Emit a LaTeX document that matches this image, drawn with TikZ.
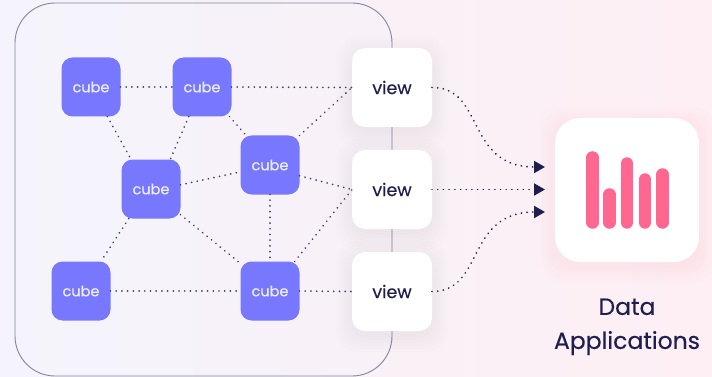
\documentclass[tikz,border=0pt]{standalone}
\usepackage{fontspec}
\setmainfont{Poppins}
\newfontfamily\medfont{Poppins}[FakeBold=0.35]
\usetikzlibrary{arrows.meta}
\definecolor{ink}{HTML}{1F1F4F}
\definecolor{dotc}{HTML}{3F3F66}
\definecolor{cubeblue}{HTML}{7878FF}
\definecolor{cubetext}{HTML}{ECECFF}
\definecolor{barpink}{HTML}{FF6690}
\definecolor{bgleft}{HTML}{F5F4FC}
\definecolor{bgright}{HTML}{FDEFF4}
\definecolor{framec}{HTML}{85859F}
\tikzset{
  cubebox/.style={draw=none,fill=cubeblue,rounded corners=11pt,minimum width=59pt,minimum height=59pt,inner sep=0pt,outer sep=0pt,text=cubetext,font=\medfont\fontsize{14.5}{16}\selectfont},
  viewbox/.style={draw=none,fill=white,rounded corners=13pt,minimum width=80pt,minimum height=79pt,inner sep=0pt,outer sep=0pt,text=ink,font=\medfont\fontsize{17.5}{19}\selectfont},
  appbox/.style={draw=none,fill=white,rounded corners=25pt,minimum width=144pt,minimum height=144pt,inner sep=0pt,outer sep=0pt},
  framebox/.style={draw=framec,line width=0.9pt,rounded corners=40pt,fill=bgleft,fill opacity=0.2,minimum width=377pt,minimum height=373pt,inner sep=0pt},
  dotline/.style={draw=dotc,line width=1.9pt,line cap=round,dash pattern=on 0.01pt off 5.7pt},
  flow/.style={draw=ink,line width=1.9pt,line cap=round,dash pattern=on 0.01pt off 5.7pt,-{Triangle[length=11pt,width=12pt,color=ink]}},
  barline/.style={draw=barpink,line width=12.5pt,line cap=round},
}
\newcommand{\softshadow}[6]{% cx cy w h color opacity
  \foreach \g in {16,13,10,7,4,1}{
    \fill[#5,opacity=#6,rounded corners=22pt] (#1-#3/2-\g,#2-#4/2-\g+5) rectangle (#1+#3/2+\g,#2+#4/2+\g+5);
  }
}
\begin{document}
\begin{tikzpicture}[x=1pt,y=-1pt]
\useasboundingbox (0,0) rectangle (712,377);
\shade[left color=bgleft,right color=bgright,middle color=bgleft!45!bgright] (0,0) rectangle (712,377);
\node[framebox] (frame) at (203.5,189.5) {};
\softshadow{392}{87.5}{80}{79}{ink}{0.006}
\softshadow{392}{189.5}{80}{79}{ink}{0.006}
\softshadow{392}{291.5}{80}{79}{ink}{0.006}
\softshadow{627}{190}{144}{144}{barpink}{0.012}
\node[cubebox] (c1) at (91,87) {cube};
\node[cubebox] (c2) at (202,87) {cube};
\node[cubebox] (c3) at (151,189) {cube};
\node[cubebox] (c4) at (270,165) {cube};
\node[cubebox] (c5) at (81,291) {cube};
\node[cubebox] (c6) at (270,291) {cube};
\node[viewbox] (v1) at (392,87.5) {view};
\node[viewbox] (v2) at (392,189.5) {view};
\node[viewbox] (v3) at (392,291.5) {view};
\node[appbox] (app) at (627,190) {};
\node[text=ink,font=\medfont\fontsize{23.5}{34}\selectfont,align=center,anchor=north] (label) at (627,295) {Data\\Applications};
\draw[dotline] (c1.east) -- (c2.west);
\draw[dotline] (c1.-61) -- (c3.124);
\draw[dotline] (c2.-114) -- (c3.57);
\draw[dotline] (c2.-47) -- (c4.129);
\draw[dotline] (c3.8) -- (c4.193);
\draw[dotline] (c3.-127) -- (c5.56);
\draw[dotline] (c3.-41) -- (c6.137);
\draw[dotline] (c4.south) -- (c6.north);
\draw[dotline] (c5.east) -- (c6.west);
\draw[dotline] (c2.east) -- (v1.west);
\draw[dotline] (c4.north east) -- (v1.west);
\draw[dotline] (c4.-20) -- (v2.west);
\draw[dotline] (c6.50) -- (v2.west);
\draw[dotline] (c6.east) -- (v3.west);
\coordinate (a1) at (545,167);
\coordinate (a2) at (545,189.5);
\coordinate (a3) at (545,212);
\draw[flow] (v1.east) .. controls (485,87) and (465,167) .. (a1);
\draw[flow] (v2.east) -- (a2);
\draw[flow] (v3.east) .. controls (485,291.5) and (465,212) .. (a3);
\coordinate (b1t) at (592.5,157.5); \coordinate (b1b) at (592.5,222.5);
\coordinate (b2t) at (609.5,194.5); \coordinate (b2b) at (609.5,222.5);
\coordinate (b3t) at (627,163.5); \coordinate (b3b) at (627,222.5);
\coordinate (b4t) at (645,179.5); \coordinate (b4b) at (645,222.5);
\coordinate (b5t) at (662.5,174.5); \coordinate (b5b) at (662.5,222.5);
\draw[barline] (b1t) -- (b1b);
\draw[barline] (b2t) -- (b2b);
\draw[barline] (b3t) -- (b3b);
\draw[barline] (b4t) -- (b4b);
\draw[barline] (b5t) -- (b5b);
\end{tikzpicture}
\end{document}
